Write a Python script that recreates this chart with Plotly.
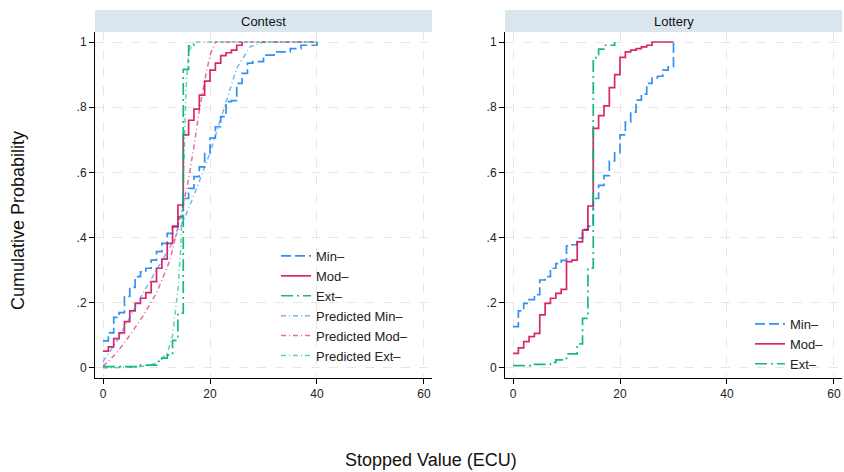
import plotly.graph_objects as go

# ---------------- data ----------------
# Contest panel: observed ECDFs (step functions)
contest_min_x = [0, 1, 2, 3, 4, 5, 6, 7, 8, 9, 10, 11, 12, 13, 14, 15, 16, 17, 18, 19, 20,
                 21, 22, 23, 24, 25, 26, 27, 28, 30, 32, 35, 37, 40]
contest_min_y = [0.083, 0.108, 0.155, 0.17, 0.22, 0.247, 0.28, 0.295, 0.306, 0.331, 0.357,
                 0.382, 0.413, 0.433, 0.464, 0.52, 0.551, 0.587, 0.617, 0.658, 0.705,
                 0.74, 0.771, 0.817, 0.82, 0.873, 0.904, 0.935, 0.94, 0.96, 0.97, 0.98, 0.99, 1.0]

contest_mod_x = [0, 1, 2, 3, 4, 5, 6, 7, 8, 9, 10, 11, 12, 13, 14, 15, 16, 17, 18, 19, 20,
                 21, 22, 23, 24, 25, 26]
contest_mod_y = [0.052, 0.065, 0.09, 0.108, 0.142, 0.175, 0.198, 0.214, 0.231, 0.265, 0.306,
                 0.334, 0.382, 0.435, 0.5, 0.715, 0.76, 0.794, 0.837, 0.88, 0.914,
                 0.935, 0.958, 0.967, 0.975, 0.99, 1.0]

contest_ext_x = [0, 7, 10, 11, 12, 13, 14, 15, 16, 17]
contest_ext_y = [0.004, 0.009, 0.02, 0.03, 0.04, 0.085, 0.168, 0.916, 0.988, 1.0]

# Contest panel: predicted CDFs
pred_min_x = [0, 2.5, 5, 7.5, 10, 12.5, 15, 17.5, 20, 22.5, 25, 27.5, 30, 40]
pred_min_y = [0.02, 0.08, 0.155, 0.23, 0.30, 0.37, 0.45, 0.55, 0.66, 0.79, 0.92, 0.985, 1.0, 1.0]

pred_mod_x = [0, 2.5, 5, 7.5, 10, 12.5, 15, 16, 17, 18, 19, 20, 21, 40]
pred_mod_y = [0.005, 0.045, 0.10, 0.16, 0.23, 0.33, 0.50, 0.58, 0.68, 0.79, 0.88, 0.96, 1.0, 1.0]

pred_ext_x = [0, 5, 8, 10, 12, 13, 14, 14.5, 15, 15.5, 16, 17, 40]
pred_ext_y = [0.0, 0.002, 0.006, 0.015, 0.045, 0.10, 0.24, 0.36, 0.56, 0.85, 0.97, 1.0, 1.0]

# Lottery panel: observed ECDFs
lottery_min_x = [0, 1, 2, 3, 4, 5, 6, 7, 8, 9, 10, 11, 12, 13, 14, 15, 16, 17, 18, 19, 20,
                 21, 22, 23, 24, 25, 26, 27, 28, 29, 30]
lottery_min_y = [0.127, 0.175, 0.198, 0.21, 0.225, 0.27, 0.28, 0.306, 0.32, 0.33, 0.375,
                 0.378, 0.398, 0.425, 0.435, 0.52, 0.56, 0.59, 0.635, 0.66, 0.715,
                 0.755, 0.785, 0.822, 0.84, 0.873, 0.89, 0.895, 0.914, 0.924, 1.0]

lottery_mod_x = [0, 1, 2, 3, 4, 5, 6, 7, 8, 9, 10, 11, 12, 13, 14, 15, 16, 17, 18, 19, 20,
                 21, 22, 23, 24, 25, 26, 30]
lottery_mod_y = [0.045, 0.062, 0.081, 0.096, 0.106, 0.163, 0.198, 0.214, 0.229, 0.241, 0.326,
                 0.331, 0.387, 0.423, 0.497, 0.735, 0.774, 0.804, 0.86, 0.90, 0.953,
                 0.97, 0.975, 0.98, 0.985, 0.99, 1.0, 1.0]

lottery_ext_x = [0, 4, 7, 8, 10, 12, 13, 14, 15, 16, 17, 19]
lottery_ext_y = [0.007, 0.011, 0.017, 0.025, 0.043, 0.074, 0.152, 0.306, 0.952, 0.978, 0.99, 1.0]

panel_titles = ["Contest", "Lottery"]
y_tickvals = [0, 0.2, 0.4, 0.6, 0.8, 1]
y_ticktext = ["0", ".2", ".4", ".6", ".8", "1"]
x_tickvals = [0, 20, 40, 60]

# ---------------- styles ----------------
C_MIN = "rgba(30,132,240,0.9)"
C_MOD = "rgba(212,17,89,0.9)"
C_EXT = "rgba(0,180,110,0.9)"
P_MIN = "rgba(30,132,240,0.6)"
P_MOD = "rgba(212,17,89,0.6)"
P_EXT = "rgba(0,180,110,0.6)"
D_MIN = "10px,4px"
D_EXT = "12px,4px,2px,4px"
D_PRED = "5px,3px,1px,3px"

fig = go.Figure()

def add(x, y, name, color, dash, xa, ya, legend, shape="hv", width=1.7):
    fig.add_trace(go.Scatter(
        x=x, y=y, name=name, mode="lines",
        line=dict(color=color, dash=dash, width=width, shape=shape),
        xaxis=xa, yaxis=ya, legend=legend))

add(contest_min_x, contest_min_y, "Min–", C_MIN, D_MIN, "x", "y", "legend")
add(contest_mod_x, contest_mod_y, "Mod–", C_MOD, "solid", "x", "y", "legend")
add(contest_ext_x, contest_ext_y, "Ext–", C_EXT, D_EXT, "x", "y", "legend")
add(pred_min_x, pred_min_y, "Predicted Min–", P_MIN, D_PRED, "x", "y", "legend", shape="linear", width=1.5)
add(pred_mod_x, pred_mod_y, "Predicted Mod–", P_MOD, D_PRED, "x", "y", "legend", shape="linear", width=1.5)
add(pred_ext_x, pred_ext_y, "Predicted Ext–", P_EXT, D_PRED, "x", "y", "legend", shape="linear", width=1.5)

add(lottery_min_x, lottery_min_y, "Min–", C_MIN, D_MIN, "x2", "y2", "legend2")
add(lottery_mod_x, lottery_mod_y, "Mod–", C_MOD, "solid", "x2", "y2", "legend2")
add(lottery_ext_x, lottery_ext_y, "Ext–", C_EXT, D_EXT, "x2", "y2", "legend2")

W, H = 844, 472
REF_L, REF_R, REF_T, REF_B = 95, 842, 32, 378   # plot area in page pixels
ML, MT = REF_L, REF_T
MR = W - REF_R
MB = H - REF_B
pw = REF_R - REF_L
ph = REF_B - REF_T

def px(x):
    return (x - REF_L) / pw

def py(y):
    return (REF_B - y) / ph

d1 = px(432)
d2 = px(505)

axis_common = dict(showline=True, linecolor="black", linewidth=1, ticks="outside",
                   ticklen=5, tickcolor="black", showgrid=True, gridcolor="#e6e6e6",
                   griddash="dash", gridwidth=1, zeroline=False,
                   tickfont=dict(size=12, color="#222"))
xr = [-1.5, 61.5]
yr = [-0.0307, 1.0307]

fig.update_layout(
    width=W, height=H, margin=dict(l=ML, r=MR, t=MT, b=MB, autoexpand=False),
    paper_bgcolor="white", plot_bgcolor="white",
    font=dict(family="Liberation Sans, Arial, sans-serif", color="#222"),
    xaxis=dict(domain=[0, d1], range=xr, tickvals=x_tickvals, **axis_common),
    yaxis=dict(domain=[0, 1], range=yr, tickvals=y_tickvals, ticktext=y_ticktext, **axis_common),
    xaxis2=dict(domain=[d2, 1], range=xr, tickvals=x_tickvals, anchor="y2", **axis_common),
    yaxis2=dict(domain=[0, 1], range=yr, tickvals=y_tickvals, ticktext=y_ticktext, anchor="x2", **axis_common),
    legend=dict(x=px(276), y=py(241), xanchor="left", yanchor="top",
                bgcolor="rgba(0,0,0,0)", font=dict(size=13), tracegroupgap=0),
    legend2=dict(x=px(750), y=py(309), xanchor="left", yanchor="top",
                 bgcolor="rgba(0,0,0,0)", font=dict(size=13), tracegroupgap=0),
    showlegend=True,
)

strip_h = 22 / ph
for (x0, x1), title in zip([(0, d1), (d2, 1)], panel_titles):
    fig.add_shape(type="rect", xref="paper", yref="paper", x0=x0, x1=x1, y0=1, y1=1 + strip_h,
                  fillcolor="#dae6ee", line=dict(width=0), layer="below")
    fig.add_annotation(x=(x0 + x1) / 2, y=1 + strip_h / 2, xref="paper", yref="paper",
                       text=title, showarrow=False, font=dict(size=13, color="#111"),
                       xanchor="center", yanchor="middle")

fig.add_annotation(x=px(431), y=py(460), xref="paper", yref="paper",
                   text="Stopped Value (ECU)", showarrow=False, font=dict(size=18, color="#111"),
                   xanchor="center", yanchor="middle")
fig.add_annotation(x=px(18), y=py(221), xref="paper", yref="paper",
                   text="Cumulative Probability", showarrow=False, textangle=-90,
                   font=dict(size=18, color="#111"), xanchor="center", yanchor="middle")

# remove the default page margin so the 844x472 figure fills the window exactly
fig.write_html("out.html",
               config={"displayModeBar": False},
               post_script="document.body.style.margin='0';"
                           "document.documentElement.style.overflow='hidden';")
